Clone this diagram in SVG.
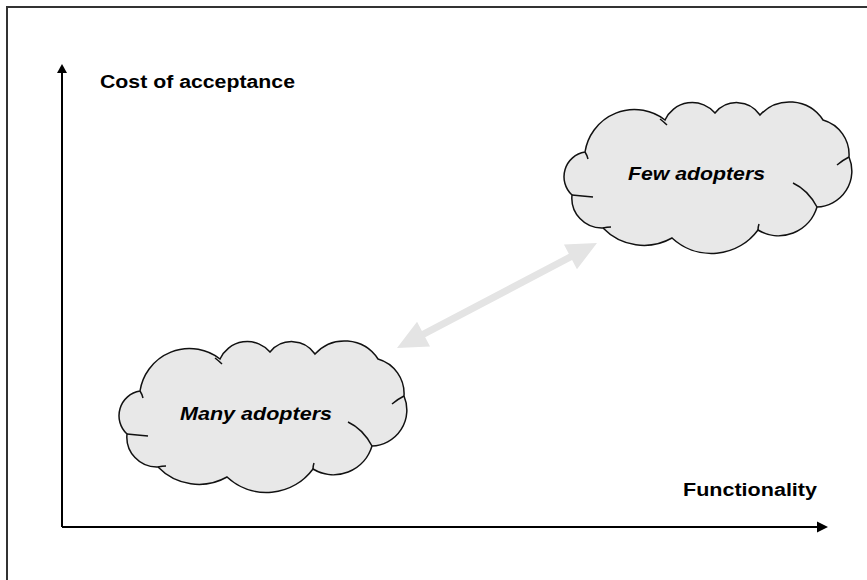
<svg xmlns="http://www.w3.org/2000/svg" xmlns:xlink="http://www.w3.org/1999/xlink" width="867" height="580" viewBox="0 0 867 580">
<style>
.axis{stroke:#000;stroke-width:2;fill:none}
.head{fill:#000}
.cloud{fill:#e8e8e8;stroke:#111;stroke-width:1.5}
.curl{fill:none;stroke:#111;stroke-width:1.5}
.lbl{font-family:"Liberation Sans",Arial,sans-serif;font-weight:bold;fill:#000}
.ctext{font-family:"Liberation Sans",Arial,sans-serif;font-style:italic;font-weight:bold;fill:#000;font-size:18px}
</style>
<defs>
<g id="cloudShape">
<path class="cloud" d="M585,152 A50,50 0 0 1 665,120 A30,30 0 0 1 715,113 A28,28 0 0 1 760,115 A40,40 0 0 1 823,120 A36,36 0 0 1 849,157 A36,36 0 0 1 817,207 A40,40 0 0 1 758,230 A58,58 0 0 1 672,238 A57,57 0 0 1 603,228 A30,30 0 0 1 572,195 A25,25 0 0 1 585,152 Z"/>
<path class="curl" d="M585,152 Q587,155 588,159"/>
<path class="curl" d="M660,119 Q664,122 667,125"/>
<path class="curl" d="M849,157 Q843,160 837,165"/>
<path class="curl" d="M817,207 Q808,190 793,183"/>
<path class="curl" d="M758,230 Q758,227 759,224"/>
<path class="curl" d="M603,228 Q607,227 611,227"/>
<path class="curl" d="M572,195 Q582,196 593,197"/>
</g>
</defs>
<rect x="7" y="7" width="880" height="600" fill="#fff" stroke="#333" stroke-width="2"/>
<g id="connectors">
<line class="axis" x1="62" y1="527" x2="62" y2="70"/>
<polygon class="head" points="62,64 57,73 67,73"/>
<line class="axis" x1="62" y1="527" x2="822" y2="527"/>
<polygon class="head" points="828,527 817,521.5 817,532.5"/>
<polygon fill="#e4e4e4" points="397,348 430.06,346.44 425.18,337.15 572.08,260.05 576.96,269.34 597,243 563.94,244.56 568.82,253.85 421.92,330.95 417.04,321.66"/>
</g>
<g id="label-y">
<text class="lbl" x="100" y="88" font-size="18" textLength="195" lengthAdjust="spacingAndGlyphs">Cost of acceptance</text>
</g>
<g id="label-x">
<text class="lbl" x="683" y="496" font-size="18" textLength="134" lengthAdjust="spacingAndGlyphs">Functionality</text>
</g>
<g id="few-adopters">
<use xlink:href="#cloudShape"/>
<text class="ctext" x="628" y="180" textLength="137" lengthAdjust="spacingAndGlyphs">Few adopters</text>
</g>
<g id="many-adopters">
<use xlink:href="#cloudShape" transform="translate(-445,239)"/>
<text class="ctext" x="180" y="420" textLength="152" lengthAdjust="spacingAndGlyphs">Many adopters</text>
</g>
</svg>
